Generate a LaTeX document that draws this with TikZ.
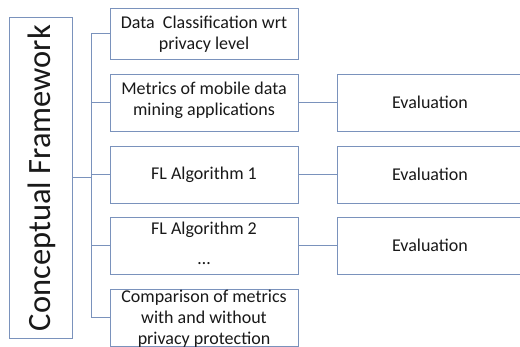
\documentclass[tikz,border=0pt]{standalone}
\usepackage{fontspec}
\setmainfont{Carlito}
\definecolor{ln}{RGB}{122,146,188}
\definecolor{tx}{RGB}{25,25,25}
\begin{document}
\begin{tikzpicture}[x=1pt,y=-1pt,line width=0.9pt,
  box/.style={draw=ln,inner sep=0pt,minimum width=188,minimum height=57},
  evalbox/.style={draw=ln,inner sep=0pt,minimum width=186,minimum height=57,
    font=\fontsize{18}{21}\selectfont,text=tx},
  lbl/.style={font=\fontsize{18}{21}\selectfont,align=center,text=tx,inner sep=0pt},
  wire/.style={draw=ln}]
\useasboundingbox (0,0) rectangle (520,347);
\fill[white] (0,0) rectangle (520,347);
% main box
\node[draw=ln,inner sep=0pt,minimum width=63,minimum height=321] (big) at (40.5,177.5) {};
\node[rotate=90,anchor=base,inner sep=0pt,text=tx,font=\fontsize{32.5}{36}\selectfont] (bigtxt) at (50,178) {Conceptual Framework};
% left column boxes
\node[box,minimum height=50.5] (b1) at (204,33.75) {};
\node[box] (b2) at (204,102.5) {};
\node[box] (b3) at (204,174.5) {};
\node[box] (b4) at (204,245.75) {};
\node[box] (b5) at (204,317.5) {};
\node[lbl] (t1) at (204,34) {Data\ \ Classification wrt\\privacy level};
\node[lbl] (t2) at (204,100) {Metrics of mobile data\\mining applications};
\node[lbl] (t3) at (204,174.5) {FL Algorithm 1};
\node[lbl,anchor=base] (t4a) at (204,235) {FL Algorithm 2};
\node[lbl,anchor=base] (t4b) at (204,265) {\ldots};
\node[lbl] (t5) at (204,319) {Comparison of metrics\\with and without\\privacy protection};
% evaluation boxes
\node[evalbox] (e2) at (430,102.5) {Evaluation};
\node[evalbox] (e3) at (430,174.5) {Evaluation};
\node[evalbox] (e4) at (430,245.75) {Evaluation};
% tree
\coordinate (ttop) at (91,33.75);
\coordinate (tbot) at (91,317.5);
\draw[wire] (ttop) -- (tbot);
\draw[wire] (big.east) -- (big.east -| ttop);
\foreach \b in {b1,b2,b3,b4,b5} \draw[wire] (\b.west -| ttop) -- (\b.west);
\draw[wire] (b2.east) -- (e2.west);
\draw[wire] (b3.east) -- (e3.west);
\draw[wire] (b4.east) -- (e4.west);
\end{tikzpicture}
\end{document}
